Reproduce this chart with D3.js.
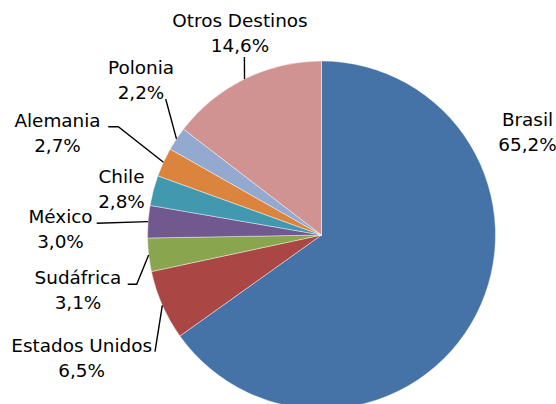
<!DOCTYPE html>
<html>
<head>
<meta charset="utf-8">
<script src="https://cdn.jsdelivr.net/npm/d3@7"></script>
<style>
  html, body { margin: 0; padding: 0; background: #fff; }
  svg { display: block; }
  text { font-family: "DejaVu Sans", Verdana, sans-serif; font-size: 18.4px; fill: #000; }
</style>
</head>
<body>
<svg id="chart" width="556" height="404"></svg>
<script>
// ---- data ----
const categories = ["Brasil", "Estados Unidos", "Sudáfrica", "México", "Chile", "Alemania", "Polonia", "Otros Destinos"];
const shares = [65.2, 6.5, 3.1, 3.0, 2.8, 2.7, 2.2, 14.6];
const colors = ["#4572A7", "#AA4643", "#89A54E", "#71588F", "#4198AF", "#DB843D", "#93A9CF", "#D19392"];

// ---- layout (label placement) ----
const labelX = [527.5, 81.7, 78, 60.5, 121.5, 57.5, 141, 240];
const labelY = [126, 352, 284.3, 223.3, 183.3, 126.7, 74, 26.7];
const leaders = [
  null,
  [[155, 351.7]],
  [[127.7, 284.3], [136.7, 284.3]],
  [[96.7, 223.3]],
  null,
  [[108.3, 126.7], [118.3, 126.7]],
  [[165.7, 99]],
  [[244.4, 57]]
];

const cx = 321.5, cy = 235, r = 174;
const lineGap = 25;

const locale = d3.formatLocale({decimal: ",", thousands: ".", grouping: [3], currency: ["", "€"]});
const fmt = locale.format(".1f");

const svg = d3.select("#chart");
const g = svg.append("g").attr("transform", `translate(${cx},${cy})`);

const pie = d3.pie().sort(null).value(d => d.v);
const data = categories.map((c, i) => ({c, v: shares[i], i}));
const arcs = pie(data);
const arc = d3.arc().innerRadius(0).outerRadius(r);

g.selectAll("path.slice")
  .data(arcs)
  .join("path")
  .attr("class", "slice")
  .attr("d", arc)
  .attr("fill", d => colors[d.data.i])
  .attr("stroke", "rgba(255,255,255,0.6)")
  .attr("stroke-width", 0.7);

// leader lines
const line = d3.line();
arcs.forEach(a => {
  const pts = leaders[a.data.i];
  if (!pts) return;
  const mid = (a.startAngle + a.endAngle) / 2;
  const end = [cx + r * Math.sin(mid), cy - r * Math.cos(mid)];
  svg.append("path")
    .attr("d", line([...pts, end]))
    .attr("fill", "none")
    .attr("stroke", "#000")
    .attr("stroke-width", 1.4);
});

// labels
arcs.forEach(a => {
  const i = a.data.i;
  const t = svg.append("text")
    .attr("text-anchor", "middle")
    .attr("x", labelX[i])
    .attr("y", labelY[i]);
  t.append("tspan").attr("x", labelX[i]).text(a.data.c);
  t.append("tspan").attr("x", labelX[i]).attr("dy", lineGap).text(fmt(a.data.v) + "%");
});
</script>
</body>
</html>
